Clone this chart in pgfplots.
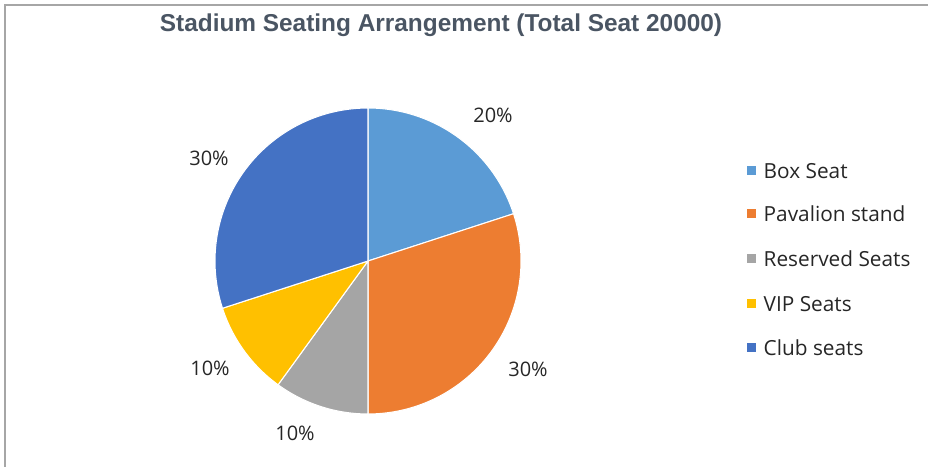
\documentclass[border=0pt]{standalone}
\usepackage{pgfplots}
\pgfplotsset{compat=1.18}
\usepackage{fontspec}
\setmainfont{Open Sans}
\newfontfamily\titlefont{Liberation Sans}
\definecolor{boxc}{HTML}{5B9BD5}
\definecolor{pavc}{HTML}{ED7D31}
\definecolor{resc}{HTML}{A5A5A5}
\definecolor{vipc}{HTML}{FFC000}
\definecolor{clubc}{HTML}{4472C4}
\definecolor{titlec}{HTML}{4A5563}
\definecolor{txtc}{HTML}{262626}
\begin{document}
\begin{tikzpicture}
\begin{axis}[x=0.75pt, y=0.75pt, xmin=0, xmax=928, ymin=0, ymax=467,
  hide axis, clip=false, samples=80]
\coordinate (bl) at (axis cs:0,0);
\coordinate (tr) at (axis cs:928,467);
% slices: Box Seat 20, Pavalion stand 30, Reserved 10, VIP 10, Club 30 (percent, clockwise from top)
\addplot[fill=boxc, draw=white, line width=0.8pt, domain=18:90, variable=\t] ({368+153*cos(\t)},{206+153*sin(\t)}) -- (axis cs:368,206) -- cycle;
\addplot[fill=pavc, draw=white, line width=0.8pt, domain=-90:18, variable=\t] ({368+153*cos(\t)},{206+153*sin(\t)}) -- (axis cs:368,206) -- cycle;
\addplot[fill=resc, draw=white, line width=0.8pt, domain=-126:-90, variable=\t] ({368+153*cos(\t)},{206+153*sin(\t)}) -- (axis cs:368,206) -- cycle;
\addplot[fill=vipc, draw=white, line width=0.8pt, domain=-162:-126, variable=\t] ({368+153*cos(\t)},{206+153*sin(\t)}) -- (axis cs:368,206) -- cycle;
\addplot[fill=clubc, draw=white, line width=0.8pt, domain=-270:-162, variable=\t] ({368+153*cos(\t)},{206+153*sin(\t)}) -- (axis cs:368,206) -- cycle;
% labels
\begin{scope}[every node/.style={text=txtc, font=\fontsize{15}{18}\selectfont}]
\node at (axis cs:493,352) {20\%};
\node at (axis cs:528,98) {30\%};
\node at (axis cs:295,34) {10\%};
\node at (axis cs:210,99) {10\%};
\node at (axis cs:209,309) {30\%};
\end{scope}
% title
\node[text=titlec, font=\titlefont\bfseries\fontsize{18.3}{21}\selectfont] at (axis cs:441,442) {Stadium Seating Arrangement (Total Seat 20000)};
% legend
\begin{scope}[every node/.style={text=txtc, font=\fontsize{15.6}{18}\selectfont, anchor=west}]
\fill[boxc] (axis cs:746.5,291.5) rectangle (axis cs:755.5,300.5);
\node at (axis cs:759,296) {Box Seat};
\fill[pavc] (axis cs:746.5,248.5) rectangle (axis cs:755.5,257.5);
\node at (axis cs:759,253) {Pavalion stand};
\fill[resc] (axis cs:746.5,203.5) rectangle (axis cs:755.5,212.5);
\node at (axis cs:759,208) {Reserved Seats};
\fill[vipc] (axis cs:746.5,158.5) rectangle (axis cs:755.5,167.5);
\node at (axis cs:759,163) {VIP Seats};
\fill[clubc] (axis cs:746.5,114.5) rectangle (axis cs:755.5,123.5);
\node at (axis cs:759,119) {Club seats};
\end{scope}
% frame
\draw[color=gray!70, line width=1.5pt] (axis cs:5,0) -- (axis cs:5,462) -- (axis cs:928,462);
\end{axis}
\pgfresetboundingbox
\path (bl) rectangle (tr);
\end{tikzpicture}
\end{document}
